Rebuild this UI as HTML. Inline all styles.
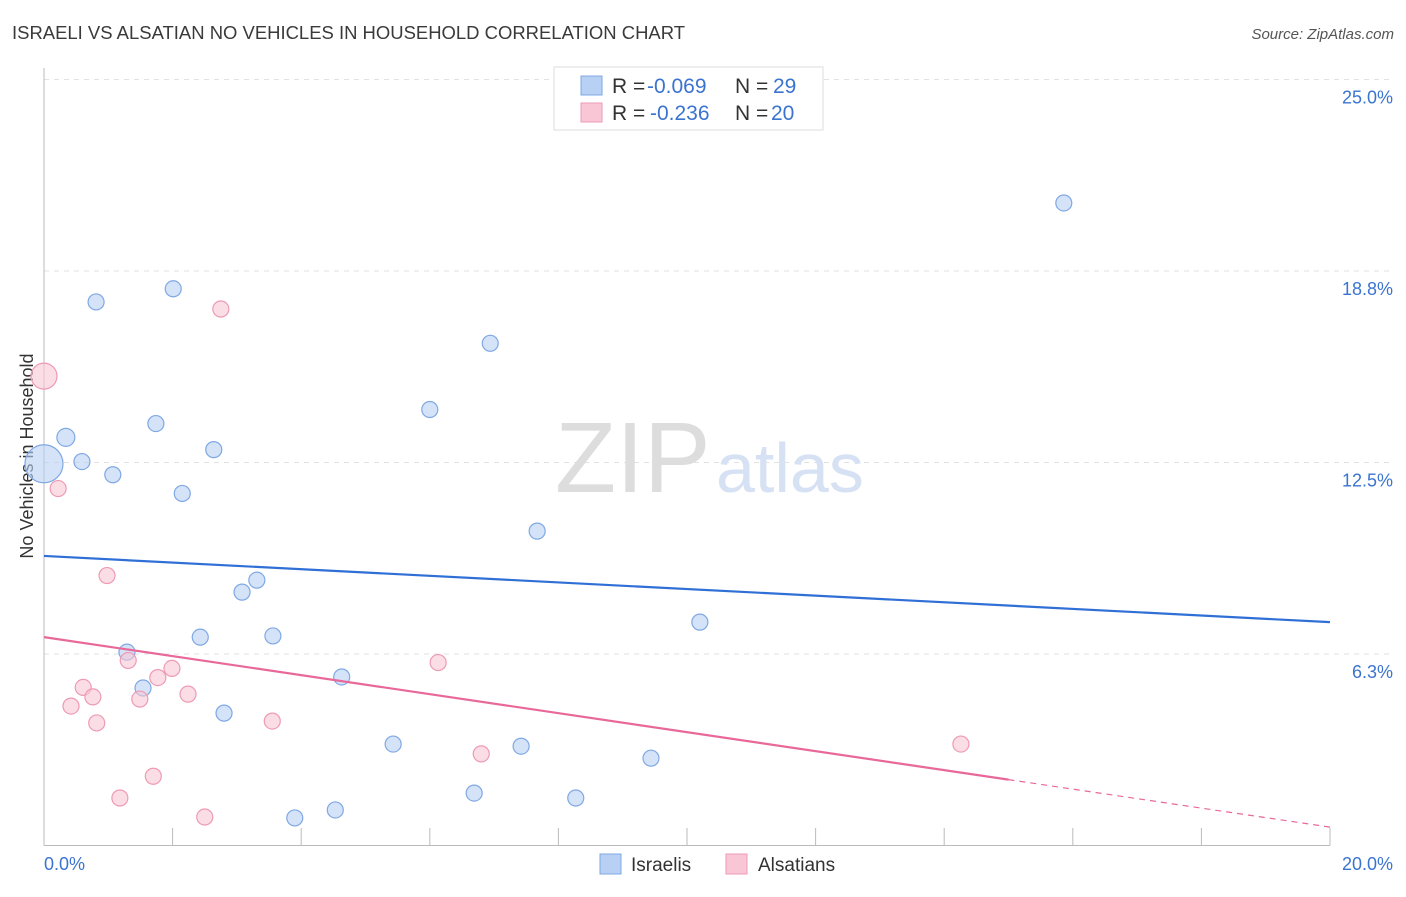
<!DOCTYPE html>
<html><head><meta charset="utf-8"><style>
body{margin:0;background:#fff;font-family:"Liberation Sans",sans-serif;}
svg text{font-family:"Liberation Sans",sans-serif;}
</style></head><body>
<svg id="chart" width="1406" height="892">
<text x="12" y="39" font-size="18" textLength="673" lengthAdjust="spacingAndGlyphs" fill="#3a3a3a">ISRAELI VS ALSATIAN NO VEHICLES IN HOUSEHOLD CORRELATION CHART</text>
<text x="1394" y="39" font-size="15" fill="#555" font-style="italic" text-anchor="end">Source: ZipAtlas.com</text>
<text transform="translate(33,456) rotate(-90)" font-size="18" fill="#333" text-anchor="middle">No Vehicles in Household</text>
<g id="grid"></g><g id="axes"></g>
<text x="555" y="492" font-size="100" fill="#ddd" font-family="Liberation Serif">ZIP</text>
<text x="716" y="492" font-size="70" fill="#d6e2f4">atlas</text>
<g id="marks"></g>
<g>
<rect x="554" y="67" width="269" height="63" fill="#fff" stroke="#ddd"/>
<rect x="581" y="76" width="21" height="19" fill="#b8d0f3" stroke="#7fa8e4"/>
<rect x="581" y="103" width="21" height="19" fill="#f9c6d6" stroke="#ee9ab4"/>
<text x="612" y="93" font-size="21" fill="#333">R = <tspan fill="#3b74d0" x="647">-0.069</tspan><tspan x="735">N = </tspan><tspan fill="#3b74d0" x="773">29</tspan></text>
<text x="612" y="120" font-size="21" fill="#333">R = <tspan fill="#3b74d0" x="650">-0.236</tspan><tspan x="735">N = </tspan><tspan fill="#3b74d0" x="771">20</tspan></text>
</g>
<g>
<rect x="600" y="854" width="21" height="20" fill="#b8d0f3" stroke="#7fa8e4"/>
<text x="631" y="871" font-size="19" fill="#333">Israelis</text>
<rect x="726" y="854" width="21" height="20" fill="#f9c6d6" stroke="#ee9ab4"/>
<text x="758" y="871" font-size="19" fill="#333">Alsatians</text>
</g>
</svg>
<script>
const blueX=[0.81,2.01,15.86,6.94,6.00,1.74,0.34,0.0,0.59,1.07,2.64,2.15,7.67,3.31,3.08,10.20,1.29,2.43,3.56,1.54,4.63,2.80,5.43,7.42,9.44,6.69,8.27,4.53,3.90];
const blueY=[17.74,18.17,20.97,16.39,14.23,13.77,13.32,12.46,12.53,12.10,12.92,11.49,10.26,8.66,8.27,7.29,6.31,6.80,6.84,5.14,5.50,4.32,3.31,3.24,2.85,1.71,1.55,1.16,0.90];
const blueR=[8,8,8,8,8,8,9,19,8,8,8,8,8,8,8,8,8,8,8,8,8,8,8,8,8,8,8,8,8];
const pinkX=[0,2.75,0.22,0.98,1.31,1.99,1.77,6.13,0.61,0.76,2.24,1.49,0.42,0.82,3.55,1.70,6.80,14.26,1.18,2.50];
const pinkY=[15.32,17.51,11.65,8.81,6.04,5.78,5.48,5.97,5.16,4.85,4.94,4.78,4.55,4.00,4.06,2.26,2.99,3.31,1.55,0.93];
const pinkR=[13,8,8,8,8,8,8,8,8,8,8,8,8,8,8,8,8,8,8,8];
const blueTrend=[9.45,7.29];
const pinkTrend=[6.80,0.60];
const pinkSolidEnd=15.0;
const yTicks=[6.25,12.5,18.75,25];
const yTickLabels=["6.3%","12.5%","18.8%","25.0%"];
const xTicks=[0,2,4,6,8,10,12,14,16,18,20];
const NS="http://www.w3.org/2000/svg";
const X=v=>44+v/20*1286, Y=v=>845.5-v/6.25*191.5;
function mk(p,t,a){const e=document.createElementNS(NS,t);for(const k in a)e.setAttribute(k,a[k]);document.getElementById(p).appendChild(e);return e;}
yTicks.forEach((t,i)=>{
 const l=mk('grid','line',{x1:44,x2:1394,y1:Y(t),y2:Y(t),stroke:'#e2e2e2','stroke-dasharray':'5,5'});
 
 
 const tx=mk('grid','text',{x:1393,y:Y(t)+24,'font-size':18,fill:'#3b74d0','text-anchor':'end'});
 tx.textContent=yTickLabels[i];
 
 
});
const ax=mk('axes','line',{x1:44,x2:1330,y1:845.5,y2:845.5,stroke:'#bbb'});


const ay=mk('axes','line',{x1:44,x2:44,y1:68,y2:845.5,stroke:'#bbb'});


xTicks.forEach(t=>{
 const l=mk('axes','line',{x1:X(t),x2:X(t),y1:828,y2:845.5,stroke:'#bbb'});
 
 
});
const xl0=mk('axes','text',{x:44,y:870,'font-size':18,fill:'#3b74d0'});xl0.textContent=xTicks[0].toFixed(1)+'%';


const xl1=mk('axes','text',{x:1393,y:870,'font-size':18,fill:'#3b74d0','text-anchor':'end'});xl1.textContent=xTicks[xTicks.length-1].toFixed(1)+'%';


blueX.forEach((x,i)=>{
 const c=mk('marks','circle',{cx:X(x),cy:Y(blueY[i]),r:blueR[i],fill:'rgba(184,208,243,0.6)',stroke:'#7fa8e4','stroke-width':1.2});
 
 
});
pinkX.forEach((x,i)=>{
 const c=mk('marks','circle',{cx:X(x),cy:Y(pinkY[i]),r:pinkR[i],fill:'rgba(249,198,214,0.6)',stroke:'#ee9ab4','stroke-width':1.2});
 
 
});
const bt=mk('marks','line',{x1:X(0),y1:Y(blueTrend[0]),x2:X(20),y2:Y(blueTrend[1]),stroke:'#2f6fd6','stroke-width':2.2});


const pm=pinkTrend[0]+(pinkTrend[1]-pinkTrend[0])*pinkSolidEnd/20;
const pt=mk('marks','line',{x1:X(0),y1:Y(pinkTrend[0]),x2:X(pinkSolidEnd),y2:Y(pm),stroke:'#e8689a','stroke-width':2.2});


const pd=mk('marks','line',{x1:X(pinkSolidEnd),y1:Y(pm),x2:X(20),y2:Y(pinkTrend[1]),stroke:'#e8689a','stroke-width':1.2,'stroke-dasharray':'6,5'});


</script>
</body></html>
